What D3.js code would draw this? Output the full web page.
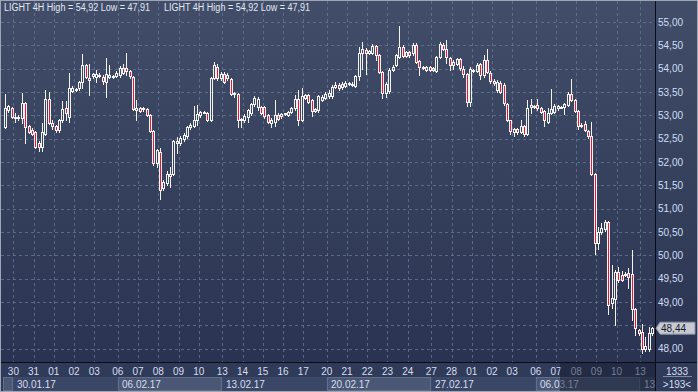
<!DOCTYPE html>
<html><head><meta charset="utf-8">
<script src="https://cdn.jsdelivr.net/npm/d3@7"></script>
<style>html,body{margin:0;padding:0;background:#2e3856;}svg{display:block;font-family:"Liberation Sans",Arial,sans-serif;}</style>
</head><body><svg id="c" width="698" height="392"></svg>
<script>
const title = "LIGHT 4H High = 54,92 Low = 47,91";
const openV = [52.76,53.11,53.15,52.97,52.94,52.94,53.27,52.77,52.68,52.64,52.40,52.33,52.61,53.36,52.84,52.77,52.69,52.90,53.15,52.97,53.53,53.54,53.58,53.72,54.08,53.79,53.84,53.83,53.85,53.83,53.72,53.83,53.83,53.84,53.86,53.91,54.01,53.96,53.83,53.11,53.15,53.13,53.13,53.00,52.66,51.97,52.22,51.44,51.54,51.71,51.74,52.40,52.40,52.49,52.56,52.74,52.77,52.90,53.01,53.06,53.06,52.90,53.79,54.04,53.79,53.89,
53.79,53.77,53.47,53.46,52.90,52.90,52.97,53.04,53.24,53.17,53.17,53.17,53.00,52.83,52.86,53.01,52.98,53.03,53.01,53.08,53.15,53.36,52.91,53.38,53.43,53.33,53.10,53.11,53.33,53.38,53.41,53.41,53.60,53.66,53.60,53.63,53.70,53.65,53.63,53.84,54.33,54.41,54.34,54.34,54.48,54.29,53.93,53.48,53.53,53.98,54.08,54.26,54.47,54.27,54.35,54.33,54.51,54.17,54.01,53.98,54.04,53.97,53.96,54.26,
54.51,54.42,54.22,54.08,54.11,54.20,53.99,53.88,53.29,53.96,53.96,54.10,53.86,54.18,53.91,53.73,53.54,53.69,53.66,53.24,52.89,52.65,52.70,52.65,52.77,52.61,53.17,53.18,53.22,53.15,53.10,52.86,53.06,53.08,53.15,53.17,53.17,53.22,53.46,53.33,53.10,52.79,52.81,52.67,52.56,51.74,50.26,50.49,50.56,50.72,48.97,49.06,49.65,49.58,49.58,49.63,49.61,48.86,48.41,48.36,48.00,48.00,48.33];
const closeV = [53.15,53.19,52.97,52.94,52.97,53.26,52.74,52.65,52.60,52.33,52.33,52.65,53.36,52.84,52.77,52.69,52.90,53.13,53.06,53.58,53.58,53.56,53.72,54.08,53.83,53.76,53.88,53.89,53.87,53.74,53.89,53.86,53.84,53.91,54.02,54.01,53.94,53.84,53.14,53.15,53.10,53.15,53.01,52.66,51.97,52.26,51.41,51.58,51.74,51.74,52.44,52.46,52.51,52.58,52.74,52.79,52.90,53.02,53.08,53.08,52.90,53.79,54.08,53.79,53.89,53.72,
53.86,53.46,53.45,52.90,52.92,52.98,53.11,53.24,53.38,53.36,53.06,52.98,52.86,52.90,53.01,52.93,53.03,53.04,53.08,53.15,53.36,52.91,53.41,53.43,53.29,53.10,53.13,53.41,53.40,53.46,53.47,53.61,53.65,53.58,53.68,53.70,53.67,53.68,53.84,54.34,54.43,54.33,54.38,54.48,54.29,53.93,53.48,53.68,53.98,54.04,54.29,54.47,54.27,54.35,54.29,54.51,54.15,54.04,54.03,54.03,53.98,54.01,54.24,54.53,
54.42,54.24,54.08,54.15,54.20,54.01,53.88,53.29,53.99,53.97,54.08,53.86,54.18,53.93,53.74,53.70,53.72,53.51,53.26,52.90,52.67,52.70,52.65,52.77,52.61,53.15,53.22,53.20,53.15,53.08,52.90,53.06,53.13,53.20,53.20,53.18,53.24,53.46,53.33,53.10,52.77,52.80,52.69,52.56,51.74,50.26,50.49,50.58,50.72,48.93,49.08,49.65,49.47,49.47,49.61,49.54,48.84,48.44,48.33,48.00,48.06,48.33,48.44];
const highV = [53.45,53.22,53.17,53.05,53.00,53.47,53.29,52.80,52.72,52.66,52.45,52.83,53.55,53.49,52.90,52.80,52.93,53.30,53.30,53.90,53.62,53.58,53.74,54.31,54.10,54.11,53.90,53.97,53.90,53.86,54.22,54.08,53.86,53.94,54.05,54.11,54.33,53.98,53.85,53.33,53.17,53.18,53.15,53.02,52.68,52.28,52.30,51.62,51.80,51.90,52.47,52.54,52.55,52.62,52.78,52.83,53.20,53.22,53.10,53.10,53.08,53.82,54.15,54.10,53.92,53.92,
53.90,53.79,53.50,53.48,52.95,53.02,53.14,53.27,53.42,53.40,53.20,53.20,53.03,52.95,53.33,53.04,53.06,53.06,53.10,53.18,53.44,53.54,53.58,53.46,53.46,53.35,53.16,53.44,53.43,53.50,53.55,53.64,53.72,53.69,53.72,53.73,53.72,53.71,53.87,54.47,54.57,54.44,54.41,54.52,54.51,54.31,53.96,53.71,54.01,54.07,54.32,54.92,54.50,54.38,54.37,54.54,54.54,54.19,54.06,54.05,54.06,54.03,54.27,54.57,
54.55,54.61,54.26,54.18,54.23,54.23,54.05,53.91,54.03,54.00,54.12,54.13,54.30,54.42,53.94,53.78,53.76,53.74,53.69,53.26,52.91,52.73,52.72,52.90,52.79,53.32,53.35,53.22,53.35,53.17,53.12,53.15,53.56,53.25,53.22,53.20,53.27,53.49,53.77,53.35,53.12,52.83,52.87,52.69,52.86,51.76,50.60,50.70,50.76,50.74,49.79,49.68,49.76,49.67,49.64,49.72,50.11,48.88,48.43,48.53,48.26,48.47,48.47];
const lowV = [52.72,53.08,52.95,52.86,52.90,52.83,52.40,52.62,52.57,52.30,52.24,52.23,52.58,52.82,52.70,52.64,52.64,52.85,52.90,52.86,53.50,53.52,53.55,53.58,53.80,53.44,53.80,53.72,53.82,53.68,53.40,53.81,53.81,53.82,53.83,53.89,53.86,53.80,53.12,52.90,53.08,53.10,52.99,52.64,51.93,51.90,51.20,51.40,51.50,51.47,51.72,52.19,52.37,52.45,52.52,52.70,52.75,52.79,52.97,53.04,52.88,52.88,53.77,53.76,53.75,53.70,
53.76,53.44,53.40,52.76,52.75,52.86,52.85,53.00,53.20,53.12,53.03,52.95,52.83,52.75,52.78,52.90,52.95,53.00,52.98,53.05,53.12,52.80,52.88,53.35,53.26,52.98,53.07,53.08,53.30,53.35,53.38,53.38,53.58,53.55,53.57,53.60,53.64,53.62,53.60,53.75,54.00,53.88,54.31,54.31,54.18,53.90,53.38,53.40,53.48,53.95,54.05,54.23,54.24,54.24,54.26,54.30,54.12,53.87,53.99,53.95,53.96,53.94,53.93,54.23,
54.40,54.12,53.97,53.99,54.08,53.98,53.83,53.19,53.19,53.93,53.93,53.77,53.83,53.90,53.70,53.65,53.50,53.47,53.23,52.87,52.59,52.55,52.60,52.62,52.56,52.58,53.05,53.15,53.12,53.05,52.77,52.83,53.03,53.05,53.12,53.15,53.02,53.19,53.30,53.08,52.70,52.76,52.66,52.51,51.72,50.02,50.14,50.45,50.52,48.75,48.87,48.51,49.43,49.44,49.55,49.30,48.62,48.30,48.29,47.91,47.96,47.95,48.30];
const priceTicks = [55.0,54.5,54.0,53.5,53.0,52.5,52.0,51.5,51.0,50.5,50.0,49.5,49.0,48.5,48.0];
const dayLabels = ["30","31","01","02","03","06","07","08","09","10","13","14","15","16","17","20","21","22","23","24","27","28","01","02","03","06","07","08","09","10","13"];
const dayStart = [3,9,15,21,27,34,40,46,52,58,65,71,77,83,89,96,102,108,114,120,127,133,139,145,151,158,164,170,176,182,189];
const weekLabels = ["","30.01.17","06.02.17","13.02.17","20.02.17","27.02.17","06.03.17","13"];
const weekStart = [0,3,34,65,96,127,158,189];
const lastPrice = 48.44;
const cornerTop = "1333", cornerBottom = ">193<";

const W = 698, H = 392, PR = 655, AY = 363;
const N = closeV.length;
const svg = d3.select("#c");
const defs = svg.append("defs");
const g1 = defs.append("linearGradient").attr("id","bg").attr("x1",0).attr("y1",0).attr("x2",0).attr("y2",1);
g1.append("stop").attr("offset","0%").attr("stop-color","#414d69");
g1.append("stop").attr("offset","100%").attr("stop-color","#2a3452");

svg.append("rect").attr("x",0).attr("y",0).attr("width",W).attr("height",AY).attr("fill","url(#bg)");
svg.append("rect").attr("x",0).attr("y",AY).attr("width",W).attr("height",H-AY).attr("fill","#303b59");

const x = d3.scaleBand().domain(d3.range(N)).range([3.3, 3.3 + 3.37 * N]).paddingInner(0);
const y = d3.scaleLinear().domain([48, 55]).range([348.7, 22]);
const fmt = v => d3.format(".2f")(v).replace(".", ",");

// grid
const grid = svg.append("g").attr("stroke","#6a7896").attr("stroke-opacity",0.75).attr("stroke-dasharray","3,3").attr("stroke-width",1);
priceTicks.forEach(v => {
  const yy = Math.round(y(v)) + 0.5;
  grid.append("line").attr("x1",1).attr("x2",PR).attr("y1",yy).attr("y2",yy);
});
dayStart.forEach(i => {
  const xx = Math.round(x(i)) + 0.5;
  grid.append("line").attr("x1",xx).attr("x2",xx).attr("y1",1).attr("y2",AY);
});

// header
[4, 164].forEach(tx => svg.append("text").attr("x",tx).attr("y",11).attr("font-size",10)
  .attr("textLength",146).attr("lengthAdjust","spacingAndGlyphs").attr("fill","#e2e8f4").text(title));

// candles
const cg = svg.append("g");
for (let i = 0; i < N; i++) {
  const o = openV[i], c = closeV[i], h = highV[i], l = lowV[i];
  const px = Math.round(x(i) + x.bandwidth() / 2);
  let top = Math.round(y(Math.max(o, c))), bot = Math.round(y(Math.min(o, c)));
  if (bot - top < 1) bot = top + 1;
  const yh = Math.round(y(h)), yl = Math.round(y(l));
  if (yh < top) cg.append("line").attr("x1",px+0.5).attr("x2",px+0.5).attr("y1",yh).attr("y2",top).attr("stroke","#f4f2ec");
  if (yl > bot) cg.append("line").attr("x1",px+0.5).attr("x2",px+0.5).attr("y1",bot).attr("y2",yl+1).attr("stroke","#f4f2ec");
  cg.append("rect").attr("x",px-0.5).attr("y",top+0.5).attr("width",2).attr("height",bot-top)
    .attr("fill", c < o ? "#e3173e" : "none").attr("stroke","#f4f2ec").attr("stroke-width",1);
}

// axis separators
svg.append("line").attr("x1",PR+0.5).attr("x2",PR+0.5).attr("y1",0).attr("y2",H).attr("stroke","#0b0d16");
svg.append("line").attr("x1",0).attr("x2",W).attr("y1",AY-0.5).attr("y2",AY-0.5).attr("stroke","#0b0d16");

// right axis labels (the one hidden by the last-price tag is skipped)
const ly = y(lastPrice);
priceTicks.forEach(v => {
  if (Math.abs(y(v) - ly) < 10) return;
  svg.append("text").attr("x",658).attr("y",y(v)+3.5).attr("font-size",10).attr("fill","#d2ddf2").text(fmt(v));
});

// last price label
svg.append("path").attr("d",`M656,${ly} L660,${ly-6} L695,${ly-6} L695,${ly+6} L660,${ly+6} Z`)
  .attr("fill","#c6cad2").attr("stroke","#8a92a2");
svg.append("text").attr("x",661).attr("y",ly+3.5).attr("font-size",10).attr("fill","#1a1c28").text(fmt(lastPrice));

// bottom axis: week boxes
weekStart.forEach((s, i) => {
  const x0 = Math.round(x(s));
  const x1 = i + 1 < weekStart.length ? Math.round(x(weekStart[i + 1])) : PR;
  const light = i % 2 === 0;
  svg.append("rect").attr("x",x0+0.5).attr("y",377.5).attr("width",x1-x0-1).attr("height",13)
    .attr("fill", light ? "#4a5775" : "#3a4665").attr("stroke", light ? "#606d8b" : "#3e4a69");
  if (weekLabels[i]) svg.append("text").attr("x",x0+4).attr("y",387.5).attr("font-size",10).attr("fill","#d6def0").text(weekLabels[i]);
});
// day labels
dayStart.forEach((s, i) => {
  svg.append("text").attr("x",x(s)).attr("y",375).attr("text-anchor","middle").attr("font-size",10).attr("fill","#d6def0").text(dayLabels[i]);
});
// dimmed region
svg.append("rect").attr("x",560).attr("y",AY).attr("width",PR-560).attr("height",H-AY).attr("fill","#141b2e").attr("fill-opacity",0.5);

// corner
svg.append("rect").attr("x",PR+1).attr("y",AY).attr("width",W-PR-1).attr("height",H-AY).attr("fill","#303b59");
svg.append("text").attr("x",677).attr("y",374.5).attr("text-anchor","middle").attr("font-size",10).attr("fill","#d6def0").text(cornerTop);
svg.append("line").attr("x1",663).attr("x2",692).attr("y1",376.5).attr("y2",376.5).attr("stroke","#7d8aa8");
svg.append("text").attr("x",677).attr("y",387.5).attr("text-anchor","middle").attr("font-size",10).attr("fill","#d6def0").text(cornerBottom);

// frame
svg.append("rect").attr("x",0.5).attr("y",0.5).attr("width",W-1).attr("height",H-1).attr("fill","none").attr("stroke","#9ea6b6");
</script></body></html>
